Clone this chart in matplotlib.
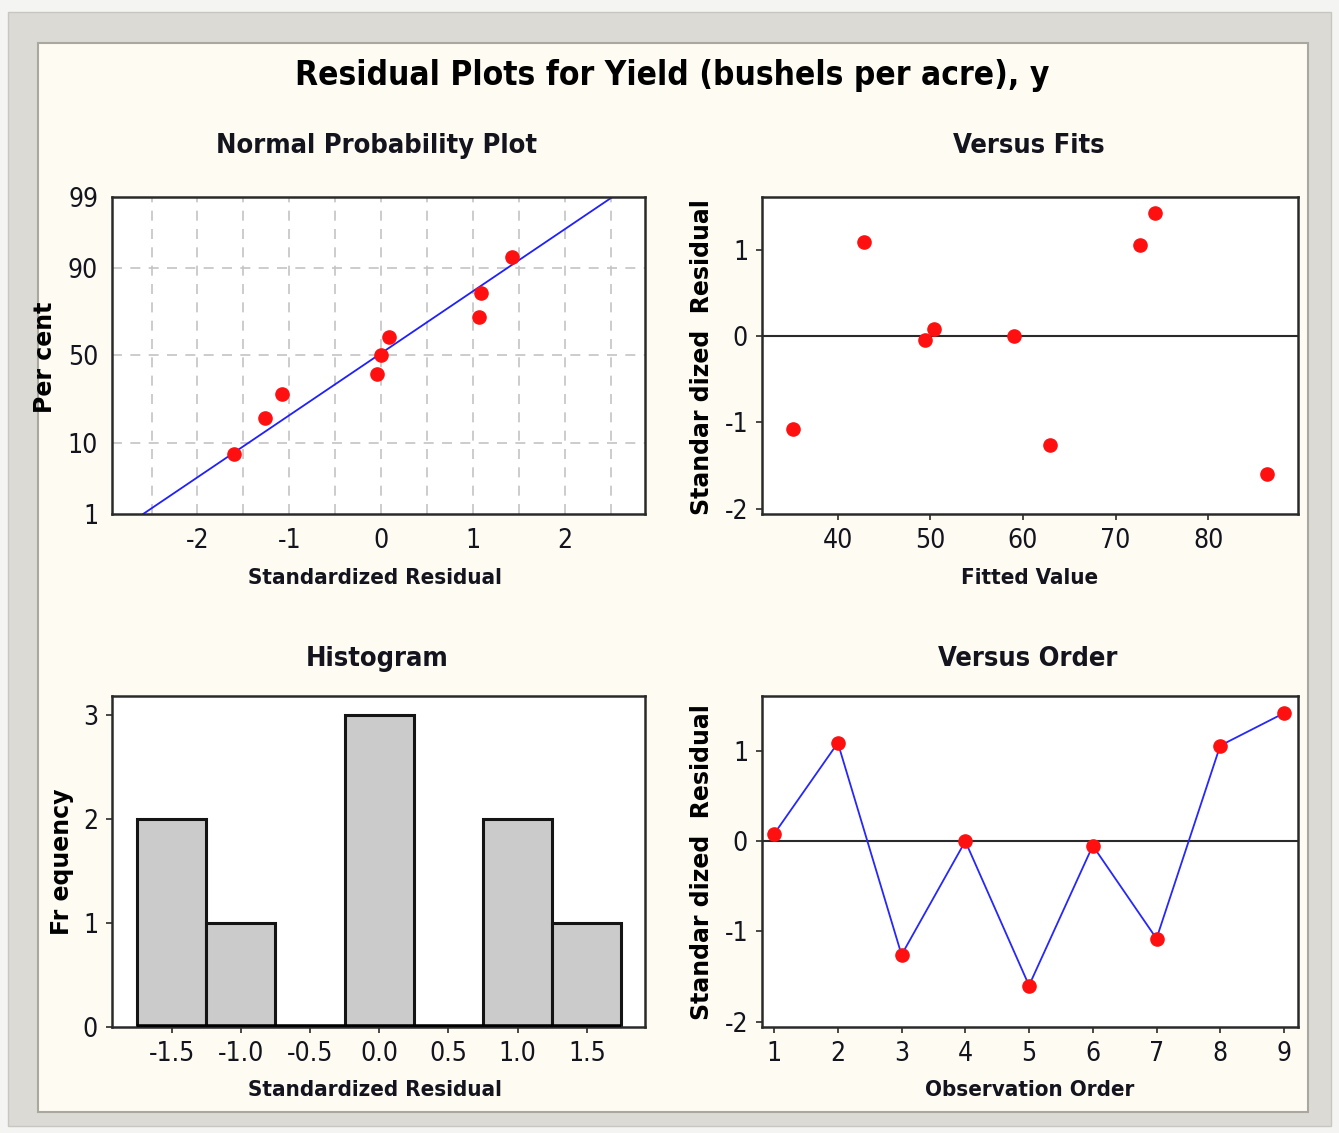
import matplotlib
matplotlib.use("Agg")
import matplotlib.pyplot as plt
from matplotlib.patches import Rectangle
from statistics import NormalDist
import numpy as np

# datos (residuos estandarizados en orden de observacion)
orden = [1, 2, 3, 4, 5, 6, 7, 8, 9]
residuos = [0.08, 1.09, -1.26, 0.00, -1.60, -0.05, -1.08, 1.06, 1.42]
ajustados = [50.4, 42.8, 62.9, 59.0, 86.3, 49.4, 35.1, 72.6, 74.3]
bordes_hist = [-1.75, -1.25, -0.75, -0.25, 0.25, 0.75, 1.25, 1.75]
pct_ticks = [1, 10, 50, 90, 99]

plt.rcParams['axes.unicode_minus'] = False

W, H = 1339, 1133
fuente = ['DejaVu Sans']
c_texto = '#14141e'


def caja(l, t, r, b):
    return [l / W, 1 - b / H, (r - l) / W, (b - t) / H]


def estilo(ax):
    for s in ax.spines.values():
        s.set_linewidth(1.8)
        s.set_color('#2a2a2a')
    ax.set_facecolor('white')
    ax.tick_params(length=4, width=1.2, color='#2a2a2a', labelsize=19,
                   labelcolor=c_texto, pad=6)
    for lab in ax.get_xticklabels() + ax.get_yticklabels():
        lab.set_family(fuente)
        lab.set_stretch('condensed')


fig = plt.figure(figsize=(W / 100, H / 100), dpi=100)
fig.patch.set_facecolor('#f4f4f2')

# marco exterior gris y panel interior crema
fig.add_artist(Rectangle((8 / W, 1 - 1126 / H), 1323 / W, 1114 / H,
                         transform=fig.transFigure, facecolor='#dcdad5',
                         edgecolor='#c8c6c0', lw=1, zorder=-10))
fig.add_artist(Rectangle((38 / W, 1 - 1112 / H), 1270 / W, 1069 / H,
                         transform=fig.transFigure, facecolor='#fdfbf2',
                         edgecolor='#a9a7a0', lw=1.5, zorder=-9))

# titulos
fig.text(672 / W, 1 - 75 / H, 'Residual Plots for Yield (bushels per acre), y',
         ha='center', va='center', fontsize=24, family=fuente, stretch='condensed',
         weight='semibold', color='black')
for x, y, t in [(377, 146, 'Normal Probability Plot'), (1029, 146, 'Versus Fits'),
                (377, 659, 'Histogram'), (1028, 659, 'Versus Order')]:
    fig.text(x / W, 1 - y / H, t, ha='center', va='center', fontsize=19.5,
             family=fuente, stretch='condensed', weight='semibold', color=c_texto)

# etiquetas de ejes
for x, y, t in [(375, 578, 'Standardized Residual'), (1030, 578, 'Fitted Value'),
                (375, 1090, 'Standardized Residual'), (1030, 1090, 'Observation Order')]:
    fig.text(x / W, 1 - y / H, t, ha='center', va='center', fontsize=16,
             family=fuente, stretch='condensed', weight='semibold', color=c_texto)
for x, y, t in [(45, 357, 'Per cent'), (702, 357, 'Standar dized  Residual'),
                (62, 862, 'Fr equency'), (702, 862, 'Standar dized  Residual')]:
    fig.text(x / W, 1 - y / H, t, ha='center', va='center', fontsize=17,
             family=fuente, weight='bold', rotation=90, color='black')

nd = NormalDist()

# grafico de probabilidad normal
ax1 = fig.add_axes(caja(112, 197, 645, 514))
n = len(residuos)
xs = np.sort(residuos)
pos = [(i - 0.3) / (n + 0.4) for i in range(1, n + 1)]
zs = [nd.inv_cdf(p) for p in pos]
media = np.mean(residuos)
desv = np.std(residuos, ddof=1)
zl = np.array([nd.inv_cdf(0.01), nd.inv_cdf(0.99)])
ax1.plot(media + desv * zl, zl, color='#1f1fff', lw=1.3, zorder=2)
ax1.plot(xs, zs, 'o', color='#ff1010', ms=9.5, zorder=3)
ax1.set_xlim(-2.93, 2.87)
ax1.set_ylim(zl[0], zl[1])
ax1.set_xticks([-2, -1, 0, 1, 2])
ax1.set_yticks([nd.inv_cdf(p / 100) for p in pct_ticks])
ax1.set_yticklabels([str(p) for p in pct_ticks])
for g in np.arange(-2.5, 2.51, 0.5):
    ax1.axvline(g, color='#c4c4c4', lw=1.2, ls=(0, (6, 5)), zorder=1)
for p in [10, 50, 90]:
    ax1.axhline(nd.inv_cdf(p / 100), color='#c4c4c4', lw=1.2, ls=(0, (6, 5)), zorder=1)
estilo(ax1)
ax1.tick_params(length=0, pad=10)

# residuos contra ajustados
ax2 = fig.add_axes(caja(762, 197, 1298, 514))
ax2.axhline(0, color='#2a2a2a', lw=1.5, zorder=1)
ax2.plot(ajustados, residuos, 'o', color='#ff1010', ms=9.5, zorder=3)
ax2.set_xlim(31.8, 89.7)
ax2.set_ylim(-2.06, 1.61)
ax2.set_xticks([40, 50, 60, 70, 80])
ax2.set_yticks([-2, -1, 0, 1])
estilo(ax2)

# histograma
ax3 = fig.add_axes(caja(112, 696, 645, 1027))
ax3.hist(residuos, bins=bordes_hist, color='#cbcbcb', edgecolor='#141414',
         linewidth=2.2, zorder=2)
ax3.plot([bordes_hist[0], bordes_hist[-1]], [0, 0], color='black', lw=4, zorder=3,
         solid_capstyle='butt')
ax3.set_xlim(-1.93, 1.92)
ax3.set_ylim(0, 3.18)
ax3.set_xticks([-1.5, -1.0, -0.5, 0.0, 0.5, 1.0, 1.5])
ax3.set_xticklabels(['-1.5', '-1.0', '-0.5', '0.0', '0.5', '1.0', '1.5'])
ax3.set_yticks([0, 1, 2, 3])
estilo(ax3)

# residuos contra orden
ax4 = fig.add_axes(caja(762, 696, 1298, 1027))
ax4.axhline(0, color='#2a2a2a', lw=1.5, zorder=1)
ax4.plot(orden, residuos, '-', color='#2626ff', lw=1.3, zorder=2)
ax4.plot(orden, residuos, 'o', color='#ff1010', ms=9.5, zorder=3)
ax4.set_xlim(0.81, 9.22)
ax4.set_ylim(-2.06, 1.61)
ax4.set_xticks(orden)
ax4.set_yticks([-2, -1, 0, 1])
estilo(ax4)

fig.savefig('out.png', dpi=100, facecolor=fig.get_facecolor())
